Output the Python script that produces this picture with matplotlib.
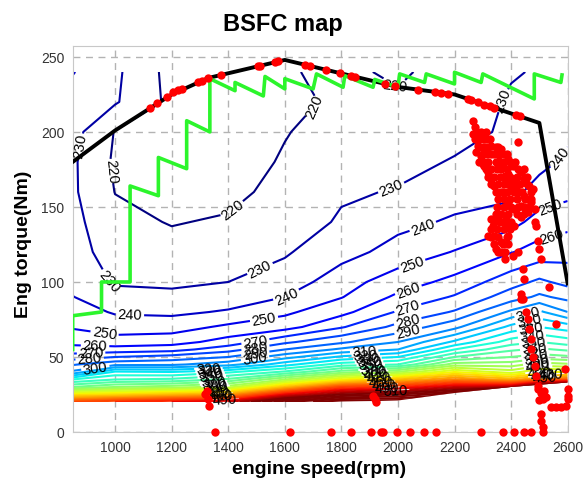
import numpy as np
import matplotlib
matplotlib.use('Agg')
import matplotlib.pyplot as plt
from matplotlib.patches import Polygon

plt.rcParams['font.family'] = ['Liberation Sans', 'DejaVu Sans']

# BSFC map (g/kWh), one column per engine speed
speed = [850, 1000, 1200, 1400, 1600, 1800, 2000, 2200, 2400, 2500, 2600]
torque = [20, 25, 30, 35, 40, 45, 50, 55, 60, 70, 80, 90, 100, 120, 140, 160, 180, 200, 220, 240]
bsfc_850 = [480, 425, 370, 340, 302, 289, 275, 264, 257, 249, 244.5, 240.3, 237, 234.5, 233, 231.5, 231.5, 233.5, 236, 240.5]
bsfc_1000 = [490, 430, 380, 350, 332, 297, 280, 264, 254.5, 245, 239, 233, 229, 225, 222.5, 219.8, 218.5, 219.5, 231, 232]
bsfc_1200 = [500, 440, 385, 352, 330, 298, 284, 266, 256, 245.5, 238, 232.5, 228, 223, 219.5, 217, 216, 216, 217.5, 216.5]
bsfc_1400 = [510, 450, 395, 362, 338, 306, 290, 276, 264, 252, 241, 235, 230, 224.5, 221, 217.5, 215.5, 214.5, 214.5, 215.5]
bsfc_1600 = [560, 500, 440, 390, 352, 326, 306, 290, 278, 256, 248, 240, 234, 229, 225.5, 223, 221, 219.5, 218, 219]
bsfc_1800 = [580, 530, 480, 420, 375, 345, 322, 302, 288, 269, 257, 249.5, 246, 236, 231, 229, 226, 224, 221.4, 222.5]
bsfc_2000 = [580, 540, 490, 440, 390, 350, 330, 310, 300, 283, 271, 262, 255, 244, 237, 230.5, 228, 226, 222, 218]
bsfc_2200 = [620, 560, 510, 460, 420, 385, 360, 340, 322, 297, 281, 271, 263, 250.5, 241.5, 235.5, 230.5, 228, 226, 225.3]
bsfc_2400 = [680, 640, 515, 445, 405, 385, 370, 358, 345, 323, 302, 285, 276, 259.5, 246.5, 237, 233, 231, 230.8, 229.5]
bsfc_2500 = [700, 660, 560, 460, 420, 395, 375, 362, 350, 330, 312, 292, 282, 264, 254, 244, 237, 233, 231, 230.5]
bsfc_2600 = [720, 680, 580, 470, 420, 392, 372, 358, 345, 325, 300, 287, 277, 266, 257, 247, 242, 238, 235, 232]
torque_floor = [20, 20, 20, 20, 20, 20, 21, 26, 30, 31.5, 33]

# max torque curve
max_rpm = [850, 1000, 1200, 1330, 1600, 2000, 2200, 2500, 2600]
max_trq = [180, 201, 225, 236, 248, 230, 225, 206, 99]

# green operating line
green_rpm = [850, 850, 952, 952, 1053, 1053, 1153, 1153, 1253, 1253, 1335, 1335, 1424, 1424,
             1524, 1530, 1600, 1600, 1700, 1712, 1806, 1812, 1912, 1918, 2000, 2006, 2094, 2100,
             2200, 2200, 2294, 2300, 2482, 2482, 2576, 2580]
green_trq = [55, 77.5, 80, 100, 100, 164, 157.5, 183, 175.5, 207.5, 200, 235.5, 227.5, 233,
             224, 237, 228.7, 235.5, 228.7, 238.7, 229.8, 237.5, 229.8, 235, 229.8, 238.7, 233, 238.7,
             232, 239.8, 233, 238.7, 222, 238.7, 233, 238]

# red operating points
pts_rpm = [1124, 1147, 1182, 1206, 1224, 1235, 1294, 1306, 1329, 1376, 1506, 1512, 1565, 1577,
           1671, 1688, 1747, 1794, 1835, 1847, 1953, 1988, 2071, 2130, 2153, 2177, 2247, 2259,
           2283, 2306, 2324, 2341, 2418, 2431,
           2265, 2271, 2265, 2271, 2283, 2277, 2294, 2288, 2306, 2318, 2330, 2341, 2312, 2330,
           2341, 2359, 2371, 2389, 2400, 2418, 2424, 2365, 2389, 2406, 2436, 2447, 2465, 2477,
           2300, 2318, 2353, 2377, 2400, 2424, 2447, 2471, 2483, 2459, 2436, 2412, 2389, 2365,
           2341, 2336, 2353, 2383, 2389, 2330, 2318, 2347, 2365, 2377, 2406, 2424, 2442, 2447,
           2436, 2436, 2495, 2500, 2506, 2535, 2483, 2489, 2412, 2436, 2365, 2389, 2412, 2436, 2459,
           2442, 2453, 2459, 2559, 2465, 2471, 2471, 2477, 2483, 2489, 2495, 2589,
           2495, 2506, 2518, 2524, 2512, 2500, 2541, 2559, 2577, 2594, 2600, 2600, 2600,
           2506, 2506, 2512, 2512,
           1318, 1324, 1330, 1331, 1912, 1918, 1924,
           1353, 1618, 1765, 1833, 1904, 1941, 1947, 1998, 2041, 2091, 2136, 2294, 2371, 2412,
           2447, 2471]
pts_trq = [216, 219, 223.6, 226.5, 228, 228.8, 233.3, 234.2, 236, 238, 243.8, 244.1, 246.4, 247,
           244.8, 244, 241.4, 239.3, 237.4, 236.9, 232.1, 230.5, 228.2, 226.8, 226.2, 225.6, 222, 221.3,
           219.7, 218.3, 217.1, 216, 211.2, 210.4,
           207.5, 203, 198.7, 195.3, 190.9, 186.5, 184.2, 179.8, 177.5, 173.1, 168.7, 164.2, 195.3, 190.9,
           185.3, 180.9, 176.5, 172, 167.5, 163.1, 193.1, 188.7, 182, 177.5, 173.1, 168.7, 164.2, 162,
           178.7, 174.2, 177.5, 170.9, 164.2, 159.8, 157.5, 153.1, 148.7, 146.5, 143.1, 137.5, 130.9, 126.5,
           130.9, 137.5, 142, 143.1, 138.7, 142, 130.9, 122, 119.8, 115.3, 117.5, 119.8, 108.7, 102,
           92, 88.7, 127.5, 122, 115.3, 96.5, 139.8, 137.5, 168.7, 173.1, 159.8, 153.1, 148.7, 150.9, 155.3,
           88.7, 79.8, 75.3, 72, 68.7, 62, 55.3, 49.8, 44.2, 37.5, 30.9, 42,
           28.7, 26, 27.3, 23.3, 22, 21, 16.5, 16.5, 16.5, 17.5, 28.7, 24, 22,
           12, 7.5, 3, 0,
           25, 27, 22, 17, 24, 22, 20,
           0, 0, 0, 0, 0, 0, 0, 0, 0, 0, 0, 0, 0, 0,
           0, 0]

# dense core of the red cloud near 2300-2470 rpm
blob_rpm = [2280, 2295, 2310, 2285, 2300, 2325, 2290, 2305, 2320, 2345, 2355,
            2300, 2315, 2330, 2355, 2370, 2385, 2305, 2320, 2345, 2375, 2395, 2415,
            2310, 2330, 2350, 2365, 2385, 2425, 2445, 2320, 2340, 2360, 2380, 2395, 2420, 2455,
            2330, 2355, 2375, 2390, 2410, 2430, 2455, 2345, 2370, 2385, 2410, 2425, 2440, 2470,
            2355, 2375, 2395, 2420, 2450, 2470, 2350, 2375, 2400, 2425, 2445, 2465,
            2345, 2365, 2390, 2420, 2445, 2340, 2360, 2380, 2400, 2330, 2350, 2375, 2395,
            2330, 2355, 2385, 2340, 2370, 2390, 2355, 2380]
blob_trq = [200, 200, 200, 195, 195, 195, 190, 190, 190, 190, 190,
            185, 185, 185, 185, 185, 185, 180, 180, 180, 180, 180, 180,
            175, 175, 175, 175, 175, 175, 175, 170, 170, 170, 170, 170, 170, 170,
            165, 165, 165, 165, 165, 165, 165, 160, 160, 160, 160, 160, 160, 160,
            155, 155, 155, 155, 155, 155, 150, 150, 150, 150, 150, 150,
            145, 145, 145, 145, 145, 140, 140, 140, 140, 135, 135, 135, 135,
            130, 130, 130, 125, 125, 125, 120, 120]

# contour label spots
label_rpm = [876, 964, 1518, 1976, 2384, 988, 1423, 1706, 1990, 1052, 1613, 2083, 2563,
             964, 1529, 2047, 2541, 929, 1494, 2036, 2551, 915, 1494, 2036, 910, 1494, 2036,
             929, 1494, 2040]
label_trq = [191, 100, 107, 163, 220, 174, 147, 217, 231, 77, 89, 139, 184,
             67, 73, 113, 149, 57, 62, 95, 127, 53, 58, 82, 49, 54, 73,
             44, 50, 65]
cluster_rpm = [1330, 1334, 1338, 1342, 1346, 1350, 1355, 1360, 1366, 1372, 1388,
               1880, 1886, 1892, 1898, 1904, 1910, 1916, 1922, 1930, 1940, 1950, 1960, 1990,
               2460, 2464, 2468, 2472, 2476, 2480, 2484, 2488, 2492, 2496, 2500, 2510, 2520, 2540]
cluster_trq = [42, 40, 38, 36, 34, 32, 30, 28, 26, 24, 22,
               55, 52, 49, 46, 44, 42, 40, 38, 36, 34, 32, 30, 28,
               79, 74, 70, 66, 62, 58, 54, 50, 46, 43, 40, 38, 36, 38]

S, T = np.meshgrid(speed, torque)
Z = np.column_stack([bsfc_850, bsfc_1000, bsfc_1200, bsfc_1400, bsfc_1600, bsfc_1800,
                     bsfc_2000, bsfc_2200, bsfc_2400, bsfc_2500, bsfc_2600])

fig = plt.figure(figsize=(5.88, 4.81), dpi=100)
ax = fig.add_axes([0.1236, 0.0998, 0.8418, 0.8025])

levels = np.arange(220, 800, 10)
cs = ax.contour(S, T, Z, levels=levels, cmap='jet', norm=plt.Normalize(220, 530),
                linewidths=1.5, zorder=2)
edge = Polygon(list(zip(speed, torque_floor)) + [(2600, 240), (850, 240)],
               closed=True, transform=ax.transData)
cs.set_clip_path(edge)

manual = list(zip(label_rpm, label_trq)) + list(zip(cluster_rpm, cluster_trq))
cs.clabel(levels=levels, manual=manual, inline=True, inline_spacing=2,
          fontsize=10.5, fmt='%d', colors='k')

ax.plot(max_rpm, max_trq, color='k', lw=2.8, zorder=4)
ax.plot(green_rpm, green_trq, color='#2cf52c', lw=2.6, zorder=5)
ax.plot(pts_rpm, pts_trq, 'o', color='red', ms=6, mec='none', zorder=6, clip_on=False)
ax.plot(blob_rpm, blob_trq, 'o', color='red', ms=6, mec='none', zorder=6)

ax.set_xlim(850, 2600)
ax.set_ylim(0, 257.3)
ax.set_xticks(range(1000, 2601, 200))
ax.set_yticks(range(0, 251, 50))
ax.grid(True, color='#b3b3b3', linestyle=(0, (5, 4)), lw=1)
ax.set_axisbelow(True)
ax.tick_params(length=0, labelsize=10, labelcolor='#333333', pad=6)
for s in ax.spines.values():
    s.set_color('#c8c8c8')

fig.text(283 / 588, 1 - 24 / 481, 'BSFC map', ha='center', va='center',
         fontsize=17, fontweight='bold')
fig.text(319 / 588, 1 - 470 / 481, 'engine speed(rpm)', ha='center', va='center',
         fontsize=14, fontweight='bold')
fig.text(24 / 588, 1 - 244 / 481, 'Eng torque(Nm)', ha='center', va='center',
         rotation=90, fontsize=14, fontweight='bold')

fig.savefig('out.png', dpi=100)
